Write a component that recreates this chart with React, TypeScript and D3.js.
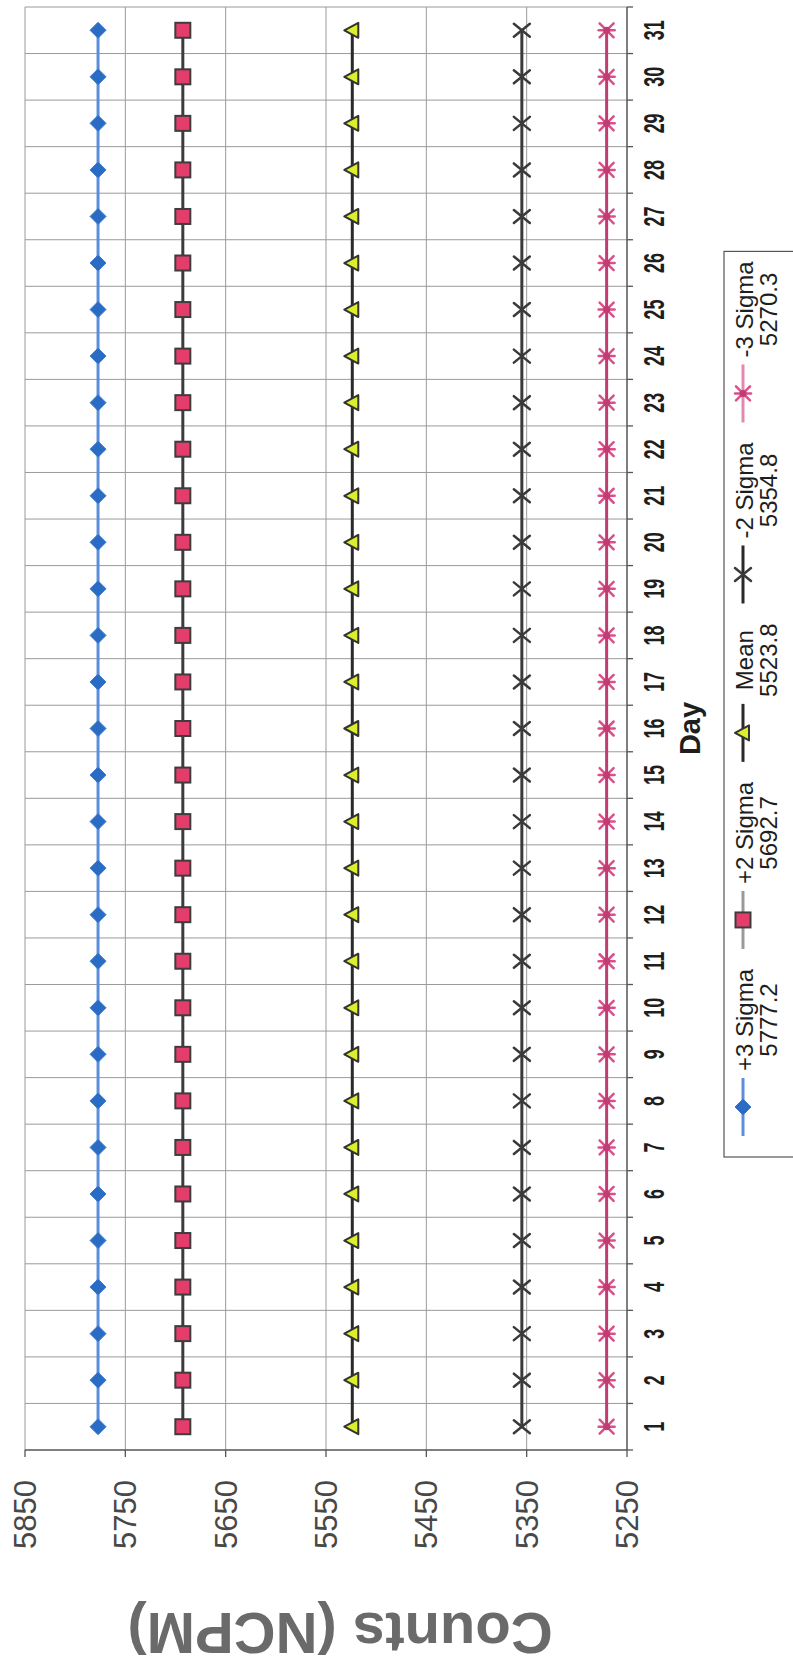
import React from "react";
import * as d3 from "d3";

// The scan is a landscape Excel chart turned 90° onto a portrait page,
// so everything is laid out in the landscape frame and rotated at the end.
const PAGE_W = 793;
const PAGE_H = 1669;

const DAYS = [
  "1", "2", "3", "4", "5", "6", "7", "8", "9", "10", "11", "12", "13", "14", "15", "16",
  "17", "18", "19", "20", "21", "22", "23", "24", "25", "26", "27", "28", "29", "30", "31",
];

const VALUE_TICKS = [5850, 5750, 5650, 5550, 5450, 5350, 5250];

const PLUS_3_SIGMA = [
  5777.2, 5777.2, 5777.2, 5777.2, 5777.2, 5777.2, 5777.2, 5777.2, 5777.2, 5777.2, 5777.2,
  5777.2, 5777.2, 5777.2, 5777.2, 5777.2, 5777.2, 5777.2, 5777.2, 5777.2, 5777.2, 5777.2,
  5777.2, 5777.2, 5777.2, 5777.2, 5777.2, 5777.2, 5777.2, 5777.2, 5777.2,
];
const PLUS_2_SIGMA = [
  5692.7, 5692.7, 5692.7, 5692.7, 5692.7, 5692.7, 5692.7, 5692.7, 5692.7, 5692.7, 5692.7,
  5692.7, 5692.7, 5692.7, 5692.7, 5692.7, 5692.7, 5692.7, 5692.7, 5692.7, 5692.7, 5692.7,
  5692.7, 5692.7, 5692.7, 5692.7, 5692.7, 5692.7, 5692.7, 5692.7, 5692.7,
];
const MEAN = [
  5523.8, 5523.8, 5523.8, 5523.8, 5523.8, 5523.8, 5523.8, 5523.8, 5523.8, 5523.8, 5523.8,
  5523.8, 5523.8, 5523.8, 5523.8, 5523.8, 5523.8, 5523.8, 5523.8, 5523.8, 5523.8, 5523.8,
  5523.8, 5523.8, 5523.8, 5523.8, 5523.8, 5523.8, 5523.8, 5523.8, 5523.8,
];
const MINUS_2_SIGMA = [
  5354.8, 5354.8, 5354.8, 5354.8, 5354.8, 5354.8, 5354.8, 5354.8, 5354.8, 5354.8, 5354.8,
  5354.8, 5354.8, 5354.8, 5354.8, 5354.8, 5354.8, 5354.8, 5354.8, 5354.8, 5354.8, 5354.8,
  5354.8, 5354.8, 5354.8, 5354.8, 5354.8, 5354.8, 5354.8, 5354.8, 5354.8,
];
const MINUS_3_SIGMA = [
  5270.3, 5270.3, 5270.3, 5270.3, 5270.3, 5270.3, 5270.3, 5270.3, 5270.3, 5270.3, 5270.3,
  5270.3, 5270.3, 5270.3, 5270.3, 5270.3, 5270.3, 5270.3, 5270.3, 5270.3, 5270.3, 5270.3,
  5270.3, 5270.3, 5270.3, 5270.3, 5270.3, 5270.3, 5270.3, 5270.3, 5270.3,
];

const SERIES_NAMES = ["+3 Sigma", "+2 Sigma", "Mean", "-2 Sigma", "-3 Sigma"];
const SERIES_LIMITS = ["5777.2", "5692.7", "5523.8", "5354.8", "5270.3"];

type MarkerKind = "diamond" | "square" | "triangle" | "cross" | "star";

const series = [
  { name: SERIES_NAMES[0], limit: SERIES_LIMITS[0], values: PLUS_3_SIGMA, line: "#5a8fdc", legendLine: "#5a8fdc", marker: "diamond" as MarkerKind },
  { name: SERIES_NAMES[1], limit: SERIES_LIMITS[1], values: PLUS_2_SIGMA, line: "#3c3c3c", legendLine: "#9a9a9a", marker: "square" as MarkerKind },
  { name: SERIES_NAMES[2], limit: SERIES_LIMITS[2], values: MEAN, line: "#2a2a2a", legendLine: "#2a2a2a", marker: "triangle" as MarkerKind },
  { name: SERIES_NAMES[3], limit: SERIES_LIMITS[3], values: MINUS_2_SIGMA, line: "#3a3a3a", legendLine: "#2a2a2a", marker: "cross" as MarkerKind },
  { name: SERIES_NAMES[4], limit: SERIES_LIMITS[4], values: MINUS_3_SIGMA, line: "#c23c74", legendLine: "#e08ab0", marker: "star" as MarkerKind },
];

const FONT = "Liberation Sans, Arial, sans-serif";

const plot = { left: 219, right: 1662, top: 25, bottom: 627 };

const Marker = ({ kind, x, y }: { kind: MarkerKind; x: number; y: number }) => {
  switch (kind) {
    case "diamond":
      return (
        <path
          d={`M${x},${y - 8}L${x + 8},${y}L${x},${y + 8}L${x - 8},${y}Z`}
          fill="#2a6cc4"
          stroke="#3c7ad0"
          strokeWidth={1}
        />
      );
    case "square":
      return (
        <rect x={x - 7.5} y={y - 7.5} width={15} height={15} fill="#e43d6c" stroke="#3d3d3d" strokeWidth={2} />
      );
    case "triangle":
      return (
        <path
          d={`M${x},${y - 8}L${x + 7.5},${y + 6}L${x - 7.5},${y + 6}Z`}
          fill="#dcee2c"
          stroke="#333"
          strokeWidth={2}
          strokeLinejoin="round"
        />
      );
    case "cross":
      return (
        <g stroke="#3a3a3a" strokeWidth={2.5} strokeLinecap="round">
          <line x1={x - 6.5} y1={y - 8} x2={x + 6.5} y2={y + 8} />
          <line x1={x + 6.5} y1={y - 8} x2={x - 6.5} y2={y + 8} />
        </g>
      );
    case "star":
      return (
        <g stroke="#d9508a" strokeWidth={2.5} strokeLinecap="round">
          <line x1={x - 7} y1={y - 7} x2={x + 7} y2={y + 7} />
          <line x1={x + 7} y1={y - 7} x2={x - 7} y2={y + 7} />
          <line x1={x} y1={y - 8} x2={x} y2={y + 8} />
          <circle cx={x} cy={y} r={3.5} fill="#c23c74" stroke="none" />
        </g>
      );
  }
};

const measure = (() => {
  const ctx = typeof document !== "undefined" ? document.createElement("canvas").getContext("2d") : null;
  return (text: string, size: number, weight = "normal") => {
    if (!ctx) return text.length * size * 0.556;
    ctx.font = `${weight} ${size}px ${FONT}`;
    return ctx.measureText(text).width;
  };
})();

export default function App() {
  const x = d3.scaleBand<string>().domain(DAYS).range([plot.left, plot.right]).padding(0);
  const y = d3.scaleLinear().domain([5250, 5850]).range([plot.bottom, plot.top]);

  const bw = x.bandwidth();
  const cx = (d: string) => (x(d) as number) + bw / 2;

  const line = d3
    .line<number>()
    .x((_, i) => cx(DAYS[i]))
    .y((v) => y(v));

  // legend entries laid out left to right, text block after each symbol
  const legendSize = 24;
  let cursor = 533;
  const legend = series.map((s) => {
    const w = Math.max(measure(s.name, legendSize), measure(s.limit, legendSize));
    const x0 = cursor;
    const x1 = cursor + 58;
    const tc = x1 + 7 + w / 2;
    cursor = x1 + 7 + w + 20;
    return { ...s, x0, x1, tc };
  });
  const legendRight = cursor - 10;

  const boundaries = DAYS.map((d) => x(d) as number).concat(plot.right);
  const txt = { fontFamily: FONT };
  const daySize = 29;

  return (
    <svg
      width={PAGE_W}
      height={PAGE_H}
      style={{ position: "absolute", left: 0, top: 0, background: "#fff", fontFamily: FONT }}
    >
      <rect width={PAGE_W} height={PAGE_H} fill="#fff" />
      <g transform={`translate(0,${PAGE_H}) rotate(-90)`}>
        {/* gridlines */}
        <g stroke="#9a9a9a" strokeWidth={1}>
          {boundaries.slice(1).map((b, i) => (
            <line key={`v${i}`} x1={b} x2={b} y1={plot.top} y2={plot.bottom} />
          ))}
          {VALUE_TICKS.map((t) => (
            <line key={`h${t}`} x1={plot.left} x2={plot.right} y1={y(t)} y2={y(t)} />
          ))}
        </g>

        {/* axes */}
        <g stroke="#555" strokeWidth={1.3}>
          <line x1={plot.left} x2={plot.left} y1={plot.top} y2={plot.bottom} />
          <line x1={plot.left} x2={plot.right} y1={plot.bottom} y2={plot.bottom} />
          {VALUE_TICKS.map((t) => (
            <line key={`yt${t}`} x1={plot.left - 7} x2={plot.left} y1={y(t)} y2={y(t)} />
          ))}
          {boundaries.map((b, i) => (
            <line key={`xt${i}`} x1={b} x2={b} y1={plot.bottom} y2={plot.bottom + 6} />
          ))}
        </g>

        {/* value labels */}
        {VALUE_TICKS.map((t) => (
          <text
            key={`yl${t}`}
            x={189}
            y={y(t)}
            dy="0.36em"
            textAnchor="end"
            fontSize={31}
            fill="#484848"
            style={txt}
          >
            {t}
          </text>
        ))}

        {/* day labels, narrow and heavy like the scan */}
        {DAYS.map((d) => (
          <text
            key={`xl${d}`}
            x={cx(d)}
            y={664}
            textAnchor="middle"
            fontSize={daySize}
            fontWeight="bold"
            textLength={measure(d, daySize, "bold") * 0.62}
            lengthAdjust="spacingAndGlyphs"
            fill="#1e1e1e"
            style={txt}
          >
            {d}
          </text>
        ))}

        <text
          x={(plot.left + plot.right) / 2}
          y={700}
          textAnchor="middle"
          fontSize={29}
          fontWeight="bold"
          fill="#1e1e1e"
          style={txt}
        >
          Day
        </text>

        <text
          transform={`translate(56,${(plot.top + plot.bottom) / 2 + 14}) rotate(-90)`}
          textAnchor="middle"
          fontSize={58}
          fontWeight="bold"
          fill="#6a6a6a"
          style={txt}
        >
          Counts (NCPM)
        </text>

        {/* series */}
        {series.map((s) => (
          <g key={s.name}>
            <path d={line(s.values) || ""} fill="none" stroke={s.line} strokeWidth={3} />
            {s.values.map((v, i) => (
              <Marker key={i} kind={s.marker} x={cx(DAYS[i])} y={y(v)} />
            ))}
          </g>
        ))}

        {/* legend */}
        <rect x={512} y={724} width={legendRight - 512} height={90} fill="#fff" stroke="#555" strokeWidth={1.2} />
        {legend.map((e) => (
          <g key={`lg${e.name}`}>
            <line x1={e.x0} x2={e.x1} y1={743} y2={743} stroke={e.legendLine} strokeWidth={3} />
            <Marker kind={e.marker} x={(e.x0 + e.x1) / 2} y={743} />
            <text x={e.tc} y={753} textAnchor="middle" fontSize={legendSize} fill="#1e1e1e" style={txt}>
              {e.name}
            </text>
            <text x={e.tc} y={777} textAnchor="middle" fontSize={legendSize} fill="#1e1e1e" style={txt}>
              {e.limit}
            </text>
          </g>
        ))}
      </g>
    </svg>
  );
}
